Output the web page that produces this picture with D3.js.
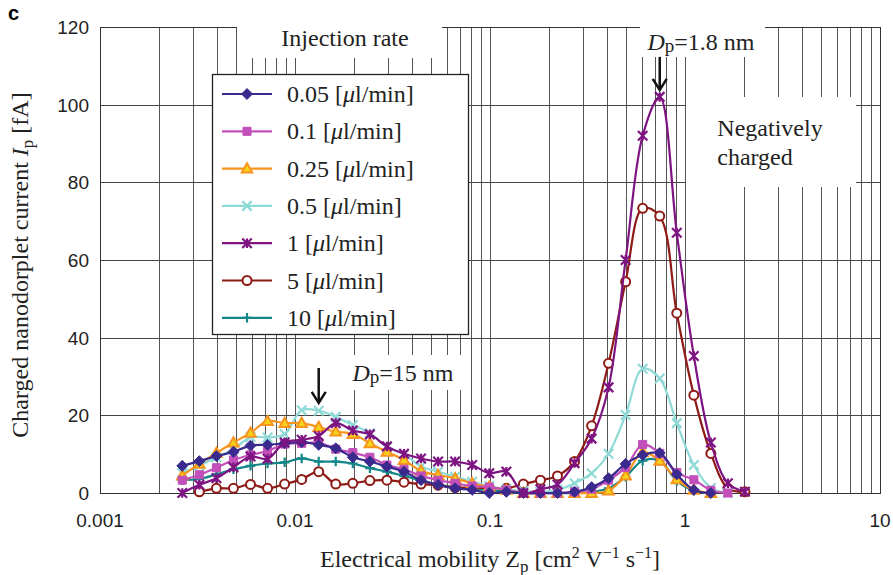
<!DOCTYPE html>
<html><head><meta charset="utf-8">
<script src="https://cdn.jsdelivr.net/npm/d3@7"></script>
<style>
body{margin:0;background:#fff;}
svg{display:block;}
.tick{font-family:"Liberation Sans",Arial,sans-serif;font-size:19px;fill:#222;}
.serif{font-family:"Liberation Serif","Times New Roman",serif;fill:#222;}
</style></head>
<body>
<svg id="c" width="893" height="575"></svg>
<script>
// ---------------- data ----------------
const mobility = [0.002642,0.003232,0.003953,0.004835,0.005913,0.007233,0.008847,0.01082,0.01323,0.01618,
  0.01979,0.02421,0.02961,0.03622,0.0443,0.05418,0.06627,0.08106,0.09915,0.1213,
  0.1483,0.1814,0.2219,0.2714,0.3319,0.4055,0.4960,0.6067,0.7420,0.9075,
  1.110,1.357,1.660,2.030];
const seriesNames = ["0.05","0.1","0.25","0.5","1","5","10"];
const rate005 = [7.0,8.2,9.5,10.6,12.2,12.4,12.8,13.1,12.4,11.5, 9.2,8.1,6.8,5.5,3.3,2.1,1.2,0.8,0,0.3, 0,0,0,0.3,1.5,3.8,7.5,9.8,10.3,4.8, 0.8,0,null,null];
const rate01  = [3.3,4.7,6.5,8.5,9.8,10.8,12.6,12.8,13.0,11.3, 10.4,9.2,7.2,6.1,4.4,3.3,2.5,1.8,1.5,0.8, 0,0,0,0.3,1.0,3.3,6.6,12.5,10.2,5.3, 3.4,0.7,0,null];
const rate025 = [4.5,7.5,10.3,13.0,15.5,18.5,18.0,18.0,17.0,15.8, 15.2,12.8,10.6,8.5,5.7,4.6,3.8,2.5,1.6,0.8, 0,0,0,0,0,0.6,4.5,10.5,8.3,3.5, 0.8,0,null,null];
const rate05  = [5.2,7.0,9.2,11.2,14.4,14.3,15.2,21.3,21.2,19.6, 17.5,15.4,11.8,10.0,6.8,5.5,4.2,2.9,1.8,1.0, 0.5,0.3,0.8,2.5,5.1,10.1,20.1,32.0,29.5,18.0, 7.2,1.3,0,null];
const rate1   = [0.0,2.1,3.8,6.6,9.4,8.8,13.0,13.7,14.7,18.0, 16.1,15.1,12.0,10.1,8.9,8.1,8.1,7.2,5.1,5.5, 0.0,1.0,2.2,7.7,14.0,27.2,60.0,92.0,102.0,67.0, 35.3,13.0,2.5,0.3];
const rate5   = [null,0.3,1.2,1.2,2.2,1.2,2.3,3.5,5.5,2.3, 2.5,3.2,3.3,2.8,2.3,2.0,1.4,1.4,1.3,1.2, 2.3,3.3,4.4,8.1,17.3,33.4,54.4,73.3,71.3,46.3, 25.2,10.2,1.2,0.3];
const rate10  = [3.3,3.6,4.8,6.1,7.0,7.6,7.9,8.9,8.1,8.1, 7.6,6.4,5.5,4.4,3.3,2.1,1.5,1.0,0.8,0.3, 0,0,0,0,0.3,1.2,4.2,8.3,8.3,3.1, 0.6,0,null,null];
const xTickValues = [0.001,0.01,0.1,1,10];
const xTickLabels = ["0.001","0.01","0.1","1","10"];
const yTickValues = [0,20,40,60,80,100,120];
const arrow15 = {x:0.01323, y0:32.2, y1:23.2};
const arrow18 = {x:0.7420, y0:112.3, y1:103.8};

// ---------------- styles ----------------
const colors  = ["#3a2a8d","#c24fba","#f7941e","#8fdad6","#7e1382","#8e1b16","#138689"];
const markers = ["diamond","square","triangle","x","star","circle","plus"];
const allSeries = [rate005,rate01,rate025,rate05,rate1,rate5,rate10];

const svg = d3.select("#c");
const L=100,R=880,T=27,B=493;
const x = d3.scaleLog().domain([0.001,10]).range([L,R]);
const y = d3.scaleLinear().domain([0,120]).range([B,T]);

// grid
const g = svg.append("g");
const vlines=[];
for(let e=-3;e<=0;e++){for(let k=1;k<=9;k++){vlines.push(k*Math.pow(10,e));}}
vlines.push(10);
g.selectAll("line.v").data(vlines).join("line").attr("class","v")
 .attr("x1",d=>Math.round(x(d))+0.5).attr("x2",d=>Math.round(x(d))+0.5)
 .attr("y1",T).attr("y2",B).attr("stroke","#555").attr("stroke-width",1);
g.selectAll("line.h").data(yTickValues).join("line").attr("class","h")
 .attr("x1",L).attr("x2",R).attr("y1",d=>Math.round(y(d))+0.5).attr("y2",d=>Math.round(y(d))+0.5)
 .attr("stroke","#444").attr("stroke-width",1);
// frame
svg.append("rect").attr("x",L+0.5).attr("y",T+0.5).attr("width",R-L).attr("height",B-T)
 .attr("fill","none").attr("stroke","#333").attr("stroke-width",1);

// white annotation boxes covering grid
const boxes=[[237,20,205,38],[640,20,125,37],[686,97,170,90],[340,355,130,35]];
svg.selectAll("rect.wb").data(boxes).join("rect").attr("class","wb")
 .attr("x",d=>d[0]).attr("y",d=>d[1]).attr("width",d=>d[2]).attr("height",d=>d[3]).attr("fill","#fff");

// tick labels
svg.selectAll("text.xt").data(xTickValues).join("text").attr("class","tick")
 .attr("x",d=>x(d)).attr("y",527).attr("text-anchor","middle").text((d,i)=>xTickLabels[i]);
svg.selectAll("text.yt").data(yTickValues).join("text").attr("class","tick")
 .attr("x",89).attr("y",d=>y(d)+7).attr("text-anchor","end").text(d=>d);

// marker path
function markerPath(type,s){
  const h=s/2;
  switch(type){
    case "diamond": return `M0,${-h*1.15}L${h*1.15},0L0,${h*1.15}L${-h*1.15},0Z`;
    case "square": return `M${-h*0.85},${-h*0.85}h${h*1.7}v${h*1.7}h${-h*1.7}Z`;
    case "triangle": return `M0,${-h}L${h},${h*0.75}L${-h},${h*0.75}Z`;
    case "x": return `M${-h},${-h}L${h},${h}M${h},${-h}L${-h},${h}`;
    case "star": return `M${-h},${-h}L${h},${h}M${h},${-h}L${-h},${h}M0,${-h}L0,${h}`;
    case "plus": return `M${-h},0L${h},0M0,${-h}L0,${h}`;
  }
}
function drawMarker(sel,type,color){
  if(type==="circle"){
    sel.append("circle").attr("r",4.5).attr("fill","#fff").attr("stroke",color).attr("stroke-width",2);
  } else if(type==="diamond"||type==="square"){
    sel.append("path").attr("d",markerPath(type,9.5)).attr("fill",color).attr("stroke",color).attr("stroke-width",1);
  } else if(type==="triangle"){
    sel.append("path").attr("d",markerPath(type,10.5)).attr("fill","#f5d31a").attr("stroke",color).attr("stroke-width",2);
  } else {
    sel.append("path").attr("d",markerPath(type,9.5)).attr("fill","none").attr("stroke",color).attr("stroke-width",2.2);
  }
}

// lines
const line = d3.line().defined(d=>d[1]!==null).x(d=>x(d[0])).y(d=>y(d[1])).curve(d3.curveCatmullRom.alpha(0.5));
const order=[6,5,3,2,1,0,4];
const plot = svg.append("g");
order.forEach(si=>{
  const vals=allSeries[si];
  const pts=mobility.map((m,i)=>[m,vals[i]]);
  plot.append("path").datum(pts).attr("d",line).attr("fill","none").attr("stroke",colors[si]).attr("stroke-width",2.2);
  const mg=plot.append("g");
  pts.filter(p=>p[1]!==null).forEach(p=>{
    const m=mg.append("g").attr("transform",`translate(${x(p[0])},${y(p[1])})`);
    drawMarker(m,markers[si],colors[si]);
  });
});

// legend
const lg=svg.append("g");
lg.append("rect").attr("x",212.5).attr("y",74.5).attr("width",256).attr("height",260).attr("fill","#fff").attr("stroke","#222").attr("stroke-width",1.3);
seriesNames.forEach((n,i)=>{
  const yy=94+i*37.3;
  lg.append("line").attr("x1",222).attr("x2",272).attr("y1",yy).attr("y2",yy).attr("stroke",colors[i]).attr("stroke-width",2.2);
  drawMarker(lg.append("g").attr("transform",`translate(247,${yy})`),markers[i],colors[i]);
  const t=lg.append("text").attr("class","serif").attr("x",287).attr("y",yy+8).attr("font-size",24);
  t.append("tspan").text(n+" [");
  t.append("tspan").attr("font-style","italic").text("μ");
  t.append("tspan").text("l/min]");
});

// annotations
svg.append("text").attr("class","serif").attr("x",345).attr("y",46).attr("font-size",24).attr("text-anchor","middle").text("Injection rate");
function dpLabel(xc,yc,val){
  const t=svg.append("text").attr("class","serif").attr("x",xc).attr("y",yc).attr("font-size",24).attr("text-anchor","middle");
  t.append("tspan").attr("font-style","italic").text("D");
  t.append("tspan").attr("font-size",19).attr("dy",2).text("p");
  t.append("tspan").attr("dy",-2).text("="+val+" nm");
}
dpLabel(701,50,"1.8");
dpLabel(403,381,"15");
svg.append("text").attr("class","serif").attr("x",770).attr("y",136).attr("font-size",24).attr("text-anchor","middle").text("Negatively");
svg.append("text").attr("class","serif").attr("x",755).attr("y",165).attr("font-size",24).attr("text-anchor","middle").text("charged");

function arrow(a){
  const ax=x(a.x), y0=y(a.y0), y1=y(a.y1);
  svg.append("line").attr("x1",ax).attr("x2",ax).attr("y1",y0).attr("y2",y1-2).attr("stroke","#111").attr("stroke-width",2.5);
  svg.append("path").attr("d",`M${ax-7},${y1-11}L${ax},${y1}L${ax+7},${y1-11}`).attr("fill","none").attr("stroke","#111").attr("stroke-width",2.5);
}
arrow(arrow15); arrow(arrow18);

// axis titles
const xt=svg.append("text").attr("class","serif").attr("x",490).attr("y",567).attr("font-size",24).attr("text-anchor","middle");
xt.append("tspan").text("Electrical mobility Z");
xt.append("tspan").attr("font-size",17).attr("dy",5).text("p");
xt.append("tspan").attr("dy",-5).text(" [cm");
xt.append("tspan").attr("font-size",16).attr("dy",-9).text("2");
xt.append("tspan").attr("dy",9).text(" V");
xt.append("tspan").attr("font-size",16).attr("dy",-9).text("−1");
xt.append("tspan").attr("dy",9).text(" s");
xt.append("tspan").attr("font-size",16).attr("dy",-9).text("−1");
xt.append("tspan").attr("dy",9).text("]");

const yt=svg.append("text").attr("class","serif").attr("transform","translate(28,265) rotate(-90)").attr("font-size",24).attr("text-anchor","middle");
yt.append("tspan").text("Charged nanodorplet current ");
yt.append("tspan").attr("font-style","italic").text("I");
yt.append("tspan").attr("font-size",17).attr("dy",5).text("p");
yt.append("tspan").attr("dy",-5).text(" [fA]");

svg.append("text").attr("x",8).attr("y",20).attr("font-family","Liberation Sans,Arial,sans-serif").attr("font-weight","bold").attr("font-size",20).text("c");
</script>
</body></html>
